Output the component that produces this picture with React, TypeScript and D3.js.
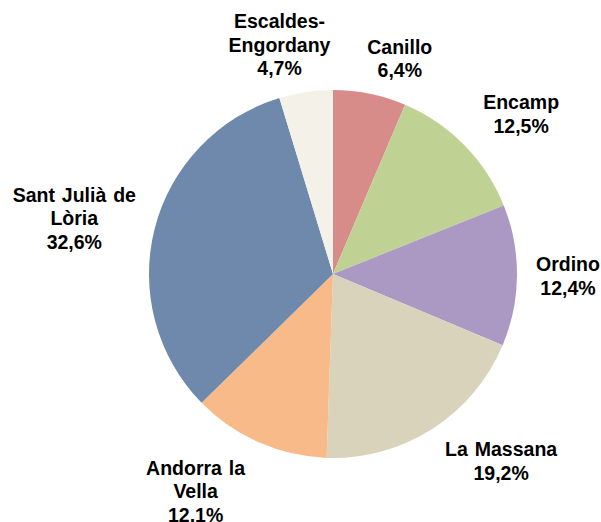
import React from "react";
import * as d3 from "d3";

const categories = [
  "Canillo",
  "Encamp",
  "Ordino",
  "La Massana",
  "Andorra la Vella",
  "Sant Julià de Lòria",
  "Escaldes-Engordany",
];
const values = [6.4, 12.5, 12.4, 19.2, 12.1, 32.6, 4.7];
const labelLines = [
  ["Canillo"],
  ["Encamp"],
  ["Ordino"],
  ["La Massana"],
  ["Andorra la", "Vella"],
  ["Sant Julià de", "Lòria"],
  ["Escaldes-", "Engordany"],
];
const colors = ["#d88c8a", "#bfd294", "#ab99c3", "#d9d3bb", "#f7ba88", "#6e89ab", "#f4f1e9"];

// layout (not data)
const W = 601;
const H = 522;
const CX = 333;
const CY = 274;
const R = 184;
const LABEL_R = R + 50;
const labelNudge: [number, number][] = [
  [20, 14],
  [21, 4],
  [1, 0],
  [42, -10],
  [-43, 3],
  [-32, 2],
  [-19, 2],
];
const FONT_SIZE = 19.5;
const LINE_H = 23.5;

export default function App() {
  const pie = d3
    .pie<number>()
    .sort(null)
    .value((d) => d)
    .startAngle(0)
    .endAngle(2 * Math.PI);
  const arcs = pie(values);
  const arc = d3.arc<d3.PieArcDatum<number>>().innerRadius(0).outerRadius(R);
  const labelArc = d3.arc<d3.PieArcDatum<number>>().innerRadius(LABEL_R).outerRadius(LABEL_R);

  return (
    <svg
      width={W}
      height={H}
      style={{ position: "absolute", left: 0, top: 0, background: "#fff" }}
      fontFamily="'Liberation Sans', Arial, sans-serif"
    >
      <g transform={`translate(${CX},${CY})`}>
        {arcs.map((a, i) => (
          <path key={categories[i]} d={arc(a) || ""} fill={colors[i]} />
        ))}
      </g>
      <g>
        {arcs.map((a, i) => {
          const [x0, y0] = labelArc.centroid(a);
          const x = CX + x0 + labelNudge[i][0];
          const y = CY + y0 + labelNudge[i][1];
          const lines = [...labelLines[i], values[i].toFixed(1).replace(".", ",") + "%"];
          const n = lines.length;
          const firstBaseline = y - ((n - 1) * LINE_H) / 2 + 7;
          return (
            <text
              key={categories[i]}
              textAnchor="middle"
              fontSize={FONT_SIZE}
              fontWeight="bold"
              fill="#000"
              style={{ wordSpacing: "1.5px" }}
            >
              {lines.map((l, j) => (
                <tspan key={j} x={x} y={firstBaseline + j * LINE_H}>
                  {l}
                </tspan>
              ))}
            </text>
          );
        })}
      </g>
    </svg>
  );
}
